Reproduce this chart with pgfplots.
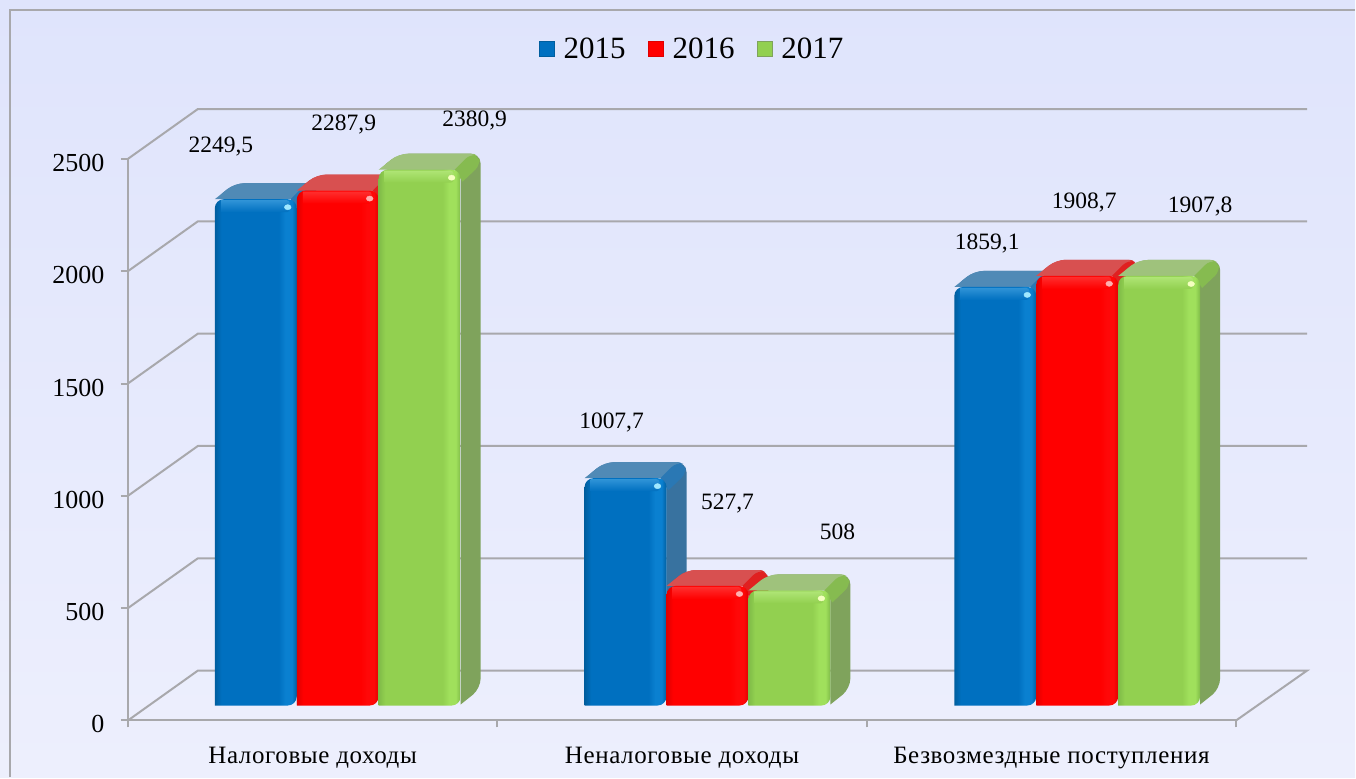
\documentclass[border=0pt]{standalone}
\usepackage{fontspec}
\usepackage{pgfplots}
\usepackage{pgfplotstable}
\pgfplotsset{compat=1.18}
\setmainfont{Liberation Serif}
\definecolor{gridc}{HTML}{A8A8AC}
\definecolor{bgtop}{HTML}{DFE4FC}
\definecolor{bgbot}{HTML}{EDEFFD}
% colours: blue
\definecolor{be}{HTML}{005E9F}\definecolor{bb}{HTML}{0070C0}\definecolor{bl}{HTML}{0A80D0}
\definecolor{bs}{HTML}{38729F}\definecolor{bt}{HTML}{508AB6}\definecolor{br}{HTML}{2A78B4}\definecolor{bh}{HTML}{A0E8FF}
% red
\definecolor{re}{HTML}{E00000}\definecolor{rb}{HTML}{FF0000}\definecolor{rl}{HTML}{FF0808}
\definecolor{rs}{HTML}{D03030}\definecolor{rt}{HTML}{D85050}\definecolor{rr}{HTML}{E02020}\definecolor{rh}{HTML}{FFB0B0}
% green
\definecolor{ge}{HTML}{7FBB48}\definecolor{gb}{HTML}{92D050}\definecolor{gl}{HTML}{A0E05C}
\definecolor{gs}{HTML}{7FA35C}\definecolor{gt}{HTML}{9FC27C}\definecolor{gr}{HTML}{86BB50}\definecolor{gh}{HTML}{F4FFC0}
\newcommand\defbar[4]{\pgfdeclarehorizontalshading{#1}{100bp}{color(0bp)=(#2);color(25bp)=(#2);color(29bp)=(#3);color(64bp)=(#3);color(68bp)=(#4);color(72bp)=(#4);color(75bp)=(#2);color(100bp)=(#2)}}
\defbar{bluef}{be}{bb}{bl}
\defbar{redf}{re}{rb}{rl}
\defbar{greenf}{ge}{gb}{gl}
% polygon shapes: fx=fraction of bar width, s=1 at the value, d=depth, px,py=pixel nudges
\pgfplotstableread{
fx s d px py
1 0 0 0 0
1 0 1 0 0
1 1 1 0 0
0 1 1 0 0
0 1 0 0 0
1 1 0 0 0
}\shapeback
\pgfplotstableread{
fx s d px py
0 1 0 0 0
0 1 1 0 0
1 1 1 0 0
1 1 0 0 0
}\shapetop
\pgfplotstableread{
fx s d px py
1 1 0 -6 0
1 1 1 -10 0
1 1 1 -2 -2
1 1 1 0 -11
1 1 0 2 -12
}\shaperidge
\pgfplotstableread{
fx s d px py
0.5 0 0 0 -1
1 0 0 0 -1
1 1 0 0 0
0 1 0 0 0
0 0 0 0 -1
}\shapefront
\pgfplotstableread{
fx s d px py
0 1 0 6 -1
1 1 0 -7 -1
1 1 0 -7 -13
0 1 0 6 -13
}\shapebevel
\pgfplotstableread{
fx s d px py
1 1 0 -9 -8
}\shapehl
\newcommand\face[3]{\addplot[forget plot,draw=none,#3] table[x expr={#1+\thisrow{fx}*0.2218+(\thisrow{d}*20+\thisrow{px})/369.67},y expr={71+\thisrow{s}*#2+(\thisrow{d}*16+\thisrow{py})/0.2248}]}
\newcommand\threedbar[4]{% x0, value, prefix, front shading
 \face{#1}{#2}{fill=#3s,rounded corners=10pt}{\shapeback};
 \face{#1}{#2}{fill=#3t,rounded corners=9pt}{\shapetop};
 \face{#1}{#2}{fill=#3r,rounded corners=7pt}{\shaperidge};
 \face{#1}{#2}{shading=#4,rounded corners=9pt}{\shapefront};
 \face{#1}{#2}{top color=#3l!85!white,bottom color=#3b,rounded corners=3pt}{\shapebevel};
 \face{#1}{#2}{only marks,color=#3h,mark=*,mark size=2.6pt,mark options={draw=#3h,fill=#3h,solid,xscale=1.3}}{\shapehl};
}
\newcommand\wall[1]{\addplot[forget plot,gridc,line width=2pt] coordinates {#1};}
\begin{document}
\begin{tikzpicture}[x=1pt,y=1pt]
\shade[top color=bgtop,bottom color=bgbot] (0,0) rectangle (1356,-778);
\draw[gridc,line width=2pt] (10.5,-778) -- (10.5,-10.5) -- (1356,-10.5);
\begin{axis}[
 at={(128pt,-721pt)},anchor=south west,
 scale only axis,width=1109pt,height=562pt,
 xmin=0,xmax=3,ymin=0,ymax=2500,clip=false,
 axis x line=bottom,axis y line=left,
 axis line style={-,gridc,line width=2pt},
 tick style={gridc,line width=2pt},
 tick align=outside,major tick length=7pt,
 ytick={0,500,...,2500},
 xtick={0,1,2,3},xticklabels={,,,},
 extra x ticks={0.5,1.5,2.5},
 extra x tick style={major tick length=0pt,tick label style={yshift=-23pt}},
 extra x tick labels={Налоговые доходы,Неналоговые доходы,Безвозмездные поступления},
 tick label style={font=\fontsize{25}{28}\selectfont\addfontfeature{LetterSpace=2.5},text=black},
 y tick label style={font=\fontsize{26}{28}\selectfont,xshift=-13pt,yshift=-4pt},
 /pgf/number format/1000 sep={},
 /pgf/number format/assume math mode=true,
 legend columns=3,
 legend style={at={(0.5095,1.196)},anchor=center,draw=none,fill=none,font=\fontsize{31}{34}\selectfont,
   /tikz/every odd column/.append style={column sep=7pt},
   /tikz/every even column/.append style={column sep=21pt}},
 legend image post style={xshift=-3pt},
]
\addlegendimage{only marks,mark=square*,mark size=7.5pt,mark options={draw=be,fill=bb,line width=1.5pt}}
\addlegendentry{2015}
\addlegendimage{only marks,mark=square*,mark size=7.5pt,mark options={draw=re,fill=rb,line width=1.5pt}}
\addlegendentry{2016}
\addlegendimage{only marks,mark=square*,mark size=7.5pt,mark options={draw=gs,fill=gb,line width=1.5pt}}
\addlegendentry{2017}
% walls and floor
\wall{(0,500) (0.1894,722) (3.192,722)}
\wall{(0,1000) (0.1894,1222) (3.192,1222)}
\wall{(0,1500) (0.1894,1722) (3.192,1722)}
\wall{(0,2000) (0.1894,2222) (3.192,2222)}
\wall{(0,2500) (0.1894,2722) (3.192,2722)}
\wall{(0,0) (0.1894,222) (3.192,222) (3,0)}
\threedbar{0.2353}{2249.5}{b}{bluef}
\threedbar{0.4571}{2287.9}{r}{redf}
\threedbar{0.6789}{2380.9}{g}{greenf}
\threedbar{1.2363}{1007.7}{b}{bluef}
\threedbar{1.4581}{527.7}{r}{redf}
\threedbar{1.6799}{508}{g}{greenf}
\threedbar{2.2373}{1859.1}{b}{bluef}
\threedbar{2.4591}{1908.7}{r}{redf}
\threedbar{2.6809}{1907.8}{g}{greenf}
\end{axis}
\begin{scope}[every node/.style={font=\fontsize{23.5}{26}\selectfont,text=black,inner sep=0pt}]
\node at (221,-147) {2249,5};
\node at (344,-125) {2287,9};
\node at (475,-121) {2380,9};
\node at (612,-423) {1007,7};
\node at (728,-504) {527,7};
\node at (838,-532) {508};
\node at (988,-244) {1859,1};
\node at (1085,-203) {1908,7};
\node at (1201,-207) {1907,8};
\end{scope}
\path[use as bounding box] (0,0) rectangle (1356,-778);
\end{tikzpicture}
\end{document}
